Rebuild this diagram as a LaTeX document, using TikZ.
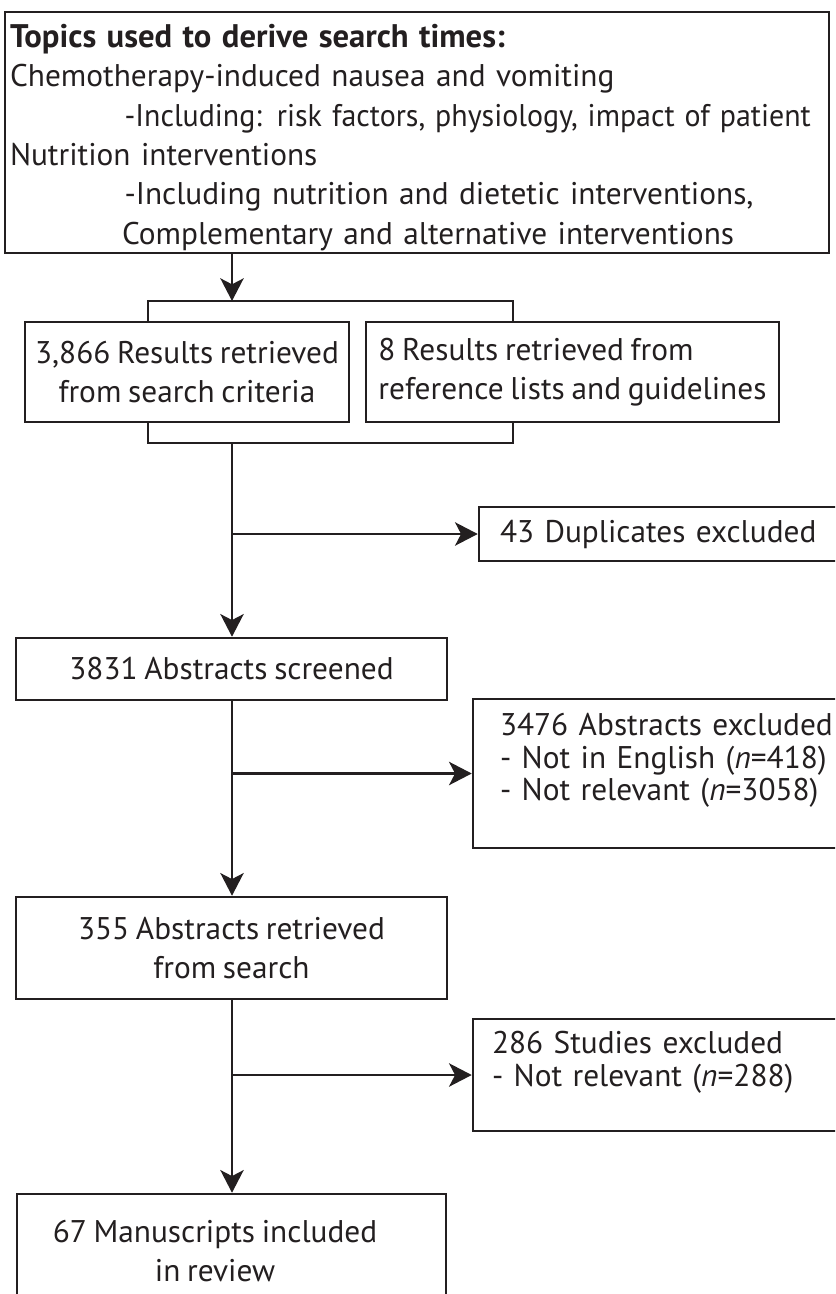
\documentclass[tikz,border=0pt]{standalone}
\usepackage{fontspec}
\setmainfont{PT Sans}[WordSpace=0.8]
\usetikzlibrary{arrows.meta}
\definecolor{ink}{HTML}{231F20}
\begin{document}
\begin{tikzpicture}[x=0.75pt,y=-0.75pt,
  box/.style={draw=ink, line width=1.9pt, rectangle, inner sep=0pt, text=ink},
  ln/.style={draw=ink, line width=1.9pt},
  arr/.style={draw=ink, line width=1.9pt, -{Stealth[length=17pt,width=17.5pt,inset=4.5pt]}},
  fA/.style={font=\fontsize{23.5}{29.5}\selectfont},
  fB/.style={font=\fontsize{23.5}{29}\selectfont},
  fC/.style={font=\fontsize{23.5}{24.5}\selectfont}
]
\useasboundingbox (0,0) rectangle (835,1294);
\clip (0,0) rectangle (835,1294);

% top box
\node[box, fA, minimum width=618pt, minimum height=180.75pt, text width=610.5pt, align=left]
  (top) at (417,132.5) {%
  \mbox{\rule{0pt}{25pt}\fontsize{24.5}{29.5}\selectfont\bfseries Topics used to derive search times:}\\
  \mbox{Chemotherapy-induced nausea and vomiting}\\
  \mbox{\hspace*{86pt}\scalebox{0.955}[1]{-Including: risk factors, physiology, impact of patient}}\\
  \mbox{Nutrition interventions}\\
  \mbox{\hspace*{86pt}-Including nutrition and dietetic interventions,}\\
  \mbox{\hspace*{84pt}Complementary and alternative interventions}};

% first row
\node[box, fB, minimum width=243pt, minimum height=75pt, align=center]
  (b1) at (187,372) {3,866 Results retrieved\\from search criteria};
\node[box, fB, minimum width=309.75pt, minimum height=75pt, align=left]
  (b2) at (572.5,372) {8 Results retrieved from\\reference lists and guidelines};

\coordinate (c1) at (232,301);
\coordinate (bl) at (148,301);
\coordinate (br) at (513,301);
\coordinate (bl2) at (148,443);
\coordinate (br2) at (513,443);
\coordinate (c2) at (232,443);

\draw[arr] (top.south -| c1) -- (c1);
\draw[ln] (bl |- b1.north) -- (bl) -- (br) -- (br |- b2.north);
\draw[ln] (bl2 |- b1.south) -- (bl2) -- (br2) -- (br2 |- b2.south);

% duplicates
\node[box, fB, minimum width=315.75pt, minimum height=40.5pt, text width=284.25pt, align=left]
  (dup) at (689.5,534) {43 Duplicates excluded};

% screened
\node[box, fB, minimum width=323.25pt, minimum height=46.5pt, align=center]
  (s1) at (231.5,669) {3831 Abstracts screened};

\node[box, fC, minimum width=320.25pt, minimum height=111.75pt, text width=279.75pt, align=left]
  (ex1) at (686.5,773.5) {\mbox{3476 Abstracts excluded}\\
  - Not in English (\textit{n}=418)\\
  - Not relevant (\textit{n}=3058)\\ \mbox{}};

\node[box, fB, minimum width=323.25pt, minimum height=76.5pt, align=center]
  (s2) at (231.5,948) {355 Abstracts retrieved\\from search};

\node[box, fC, minimum width=320.25pt, minimum height=84pt, text width=291.75pt, align=left]
  (ex2) at (686.5,1075) {286 Studies excluded\\
  - Not relevant (\textit{n}=288)\\ \mbox{}};

\node[box, minimum width=321.75pt, minimum height=102pt] (s3) at (231.5,1262) {};
\node[fB, text=ink, align=center, inner sep=0pt] (s3t) at (215,1251)
  {67 Manuscripts included\\in review};

% connectors
\draw[arr] (c2) -- (c2 |- s1.north);
\draw[arr] (c2 |- dup.west) -- (dup.west);
\draw[arr] (s1.south -| c2) -- (c2 |- s2.north);
\draw[arr] (c2 |- ex1.west) -- (ex1.west);
\draw[arr] (s2.south -| c2) -- (c2 |- s3.north);
\draw[arr] (c2 |- ex2.west) -- (ex2.west);
\end{tikzpicture}
\end{document}
